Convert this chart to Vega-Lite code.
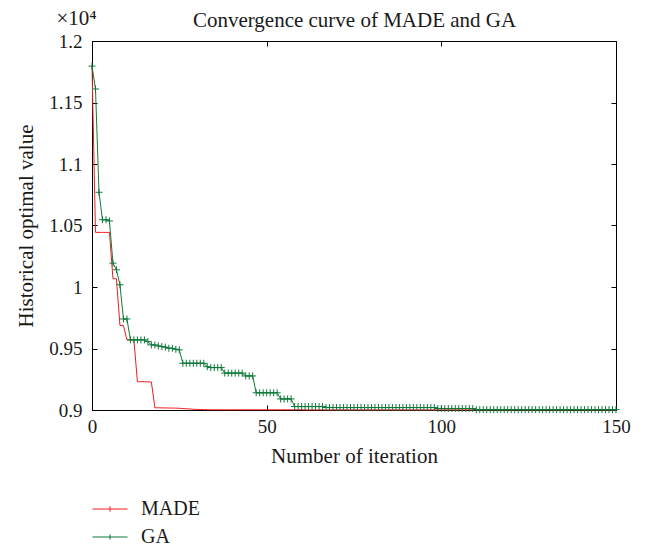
{
  "$schema": "https://vega.github.io/schema/vega-lite/v6.json",
  "width": 524,
  "height": 369,
  "autosize": {"type": "none"},
  "padding": {"left": 92, "top": 41, "right": 29, "bottom": 138},
  "background": "white",
  "config": {
    "font": "Liberation Serif",
    "view": {"stroke": "black", "strokeWidth": 1},
    "axis": {
      "labelFont": "Liberation Serif",
      "titleFont": "Liberation Serif",
      "labelFontSize": 19,
      "titleFontSize": 21,
      "titleFontWeight": "normal",
      "labelColor": "#1a1a1a",
      "titleColor": "#1a1a1a",
      "domainColor": "black",
      "tickColor": "black",
      "tickSize": -5,
      "tickWidth": 1,
      "labelFlush": false,
      "grid": false
    }
  },
  "datasets": {
    "made": [
      {"i":0,"v":1.18},{"i":1,"v":1.0444},{"i":2,"v":1.0444},{"i":3,"v":1.0444},{"i":4,"v":1.0444},{"i":5,"v":1.0444},
      {"i":6,"v":1.0067},{"i":7,"v":1.0067},{"i":8,"v":0.9687},{"i":9,"v":0.9687},{"i":10,"v":0.957},{"i":11,"v":0.957},
      {"i":12,"v":0.957},{"i":13,"v":0.923},{"i":14,"v":0.923},{"i":15,"v":0.923},{"i":16,"v":0.9229},{"i":17,"v":0.9228},
      {"i":18,"v":0.9018},{"i":19,"v":0.9018},{"i":20,"v":0.9017},{"i":21,"v":0.9017},{"i":22,"v":0.9016},{"i":23,"v":0.9016},
      {"i":24,"v":0.9015},{"i":25,"v":0.9014},{"i":26,"v":0.9012},{"i":27,"v":0.901},{"i":28,"v":0.9008},{"i":29,"v":0.9006},
      {"i":30,"v":0.9005},{"i":31,"v":0.9004},{"i":32,"v":0.9003},{"i":33,"v":0.9003},{"i":34,"v":0.9002},{"i":35,"v":0.9002},
      {"i":36,"v":0.9002},{"i":37,"v":0.9002},{"i":38,"v":0.9002},{"i":39,"v":0.9002},{"i":40,"v":0.9002},{"i":41,"v":0.9002},
      {"i":42,"v":0.9002},{"i":43,"v":0.9002},{"i":44,"v":0.9002},{"i":45,"v":0.9002},{"i":46,"v":0.9002},{"i":47,"v":0.9002},
      {"i":48,"v":0.9002},{"i":49,"v":0.9002},{"i":50,"v":0.9002},{"i":51,"v":0.9002},{"i":52,"v":0.9002},{"i":53,"v":0.9002},
      {"i":54,"v":0.9002},{"i":55,"v":0.9002},{"i":56,"v":0.9002},{"i":57,"v":0.9002},{"i":58,"v":0.9002},{"i":59,"v":0.9002},
      {"i":60,"v":0.9002},{"i":61,"v":0.9001},{"i":62,"v":0.9001},{"i":63,"v":0.9001},{"i":64,"v":0.9001},{"i":65,"v":0.9001},
      {"i":66,"v":0.9001},{"i":67,"v":0.9001},{"i":68,"v":0.9001},{"i":69,"v":0.9001},{"i":70,"v":0.9001},{"i":71,"v":0.9001},
      {"i":72,"v":0.9001},{"i":73,"v":0.9001},{"i":74,"v":0.9001},{"i":75,"v":0.9001},{"i":76,"v":0.9001},{"i":77,"v":0.9001},
      {"i":78,"v":0.9001},{"i":79,"v":0.9001},{"i":80,"v":0.9001},{"i":81,"v":0.9001},{"i":82,"v":0.9001},{"i":83,"v":0.9001},
      {"i":84,"v":0.9001},{"i":85,"v":0.9001},{"i":86,"v":0.9001},{"i":87,"v":0.9001},{"i":88,"v":0.9001},{"i":89,"v":0.9001},
      {"i":90,"v":0.9001},{"i":91,"v":0.9001},{"i":92,"v":0.9001},{"i":93,"v":0.9001},{"i":94,"v":0.9001},{"i":95,"v":0.9001},
      {"i":96,"v":0.9001},{"i":97,"v":0.9001},{"i":98,"v":0.9001},{"i":99,"v":0.9001},{"i":100,"v":0.9001},{"i":101,"v":0.9001},
      {"i":102,"v":0.9001},{"i":103,"v":0.9001},{"i":104,"v":0.9001},{"i":105,"v":0.9001},{"i":106,"v":0.9001},{"i":107,"v":0.9001},
      {"i":108,"v":0.9001},{"i":109,"v":0.9001},{"i":110,"v":0.9001},{"i":111,"v":0.9001},{"i":112,"v":0.9001},{"i":113,"v":0.9001},
      {"i":114,"v":0.9001},{"i":115,"v":0.9001},{"i":116,"v":0.9001},{"i":117,"v":0.9001},{"i":118,"v":0.9001},{"i":119,"v":0.9001},
      {"i":120,"v":0.9001},{"i":121,"v":0.9001},{"i":122,"v":0.9001},{"i":123,"v":0.9001},{"i":124,"v":0.9001},{"i":125,"v":0.9001},
      {"i":126,"v":0.9001},{"i":127,"v":0.9001},{"i":128,"v":0.9001},{"i":129,"v":0.9001},{"i":130,"v":0.9001},{"i":131,"v":0.9001},
      {"i":132,"v":0.9001},{"i":133,"v":0.9001},{"i":134,"v":0.9001},{"i":135,"v":0.9001},{"i":136,"v":0.9001},{"i":137,"v":0.9001},
      {"i":138,"v":0.9001},{"i":139,"v":0.9001},{"i":140,"v":0.9001},{"i":141,"v":0.9001},{"i":142,"v":0.9001},{"i":143,"v":0.9001},
      {"i":144,"v":0.9001},{"i":145,"v":0.9001},{"i":146,"v":0.9001},{"i":147,"v":0.9001},{"i":148,"v":0.9001},{"i":149,"v":0.9001},
      {"i":150,"v":0.9001}
    ],
    "ga": [
      {"i":0,"v":1.1796},{"i":1,"v":1.161},{"i":2,"v":1.077},{"i":3,"v":1.0547},{"i":4,"v":1.0547},{"i":5,"v":1.0537},
      {"i":6,"v":1.0194},{"i":7,"v":1.014},{"i":8,"v":1.0018},{"i":9,"v":0.974},{"i":10,"v":0.974},{"i":11,"v":0.957},
      {"i":12,"v":0.957},{"i":13,"v":0.957},{"i":14,"v":0.957},{"i":15,"v":0.957},{"i":16,"v":0.9556},{"i":17,"v":0.9529},
      {"i":18,"v":0.9529},{"i":19,"v":0.9521},{"i":20,"v":0.9516},{"i":21,"v":0.9511},{"i":22,"v":0.9502},{"i":23,"v":0.9502},
      {"i":24,"v":0.9494},{"i":25,"v":0.9489},{"i":26,"v":0.938},{"i":27,"v":0.938},{"i":28,"v":0.938},{"i":29,"v":0.938},
      {"i":30,"v":0.938},{"i":31,"v":0.938},{"i":32,"v":0.938},{"i":33,"v":0.9352},{"i":34,"v":0.9345},{"i":35,"v":0.9345},
      {"i":36,"v":0.9345},{"i":37,"v":0.9345},{"i":38,"v":0.93},{"i":39,"v":0.93},{"i":40,"v":0.93},{"i":41,"v":0.93},
      {"i":42,"v":0.93},{"i":43,"v":0.93},{"i":44,"v":0.9277},{"i":45,"v":0.9277},{"i":46,"v":0.9277},{"i":47,"v":0.914},
      {"i":48,"v":0.914},{"i":49,"v":0.914},{"i":50,"v":0.914},{"i":51,"v":0.914},{"i":52,"v":0.914},{"i":53,"v":0.914},
      {"i":54,"v":0.909},{"i":55,"v":0.909},{"i":56,"v":0.909},{"i":57,"v":0.909},{"i":58,"v":0.9028},{"i":59,"v":0.9028},
      {"i":60,"v":0.9028},{"i":61,"v":0.9028},{"i":62,"v":0.9028},{"i":63,"v":0.9028},{"i":64,"v":0.9028},{"i":65,"v":0.9028},
      {"i":66,"v":0.9028},{"i":67,"v":0.902},{"i":68,"v":0.902},{"i":69,"v":0.902},{"i":70,"v":0.902},{"i":71,"v":0.902},
      {"i":72,"v":0.902},{"i":73,"v":0.902},{"i":74,"v":0.902},{"i":75,"v":0.902},{"i":76,"v":0.902},{"i":77,"v":0.902},
      {"i":78,"v":0.902},{"i":79,"v":0.902},{"i":80,"v":0.902},{"i":81,"v":0.902},{"i":82,"v":0.902},{"i":83,"v":0.902},
      {"i":84,"v":0.902},{"i":85,"v":0.902},{"i":86,"v":0.902},{"i":87,"v":0.902},{"i":88,"v":0.902},{"i":89,"v":0.902},
      {"i":90,"v":0.902},{"i":91,"v":0.902},{"i":92,"v":0.902},{"i":93,"v":0.902},{"i":94,"v":0.902},{"i":95,"v":0.902},
      {"i":96,"v":0.902},{"i":97,"v":0.902},{"i":98,"v":0.902},{"i":99,"v":0.9012},{"i":100,"v":0.9012},{"i":101,"v":0.9012},
      {"i":102,"v":0.9012},{"i":103,"v":0.9012},{"i":104,"v":0.9012},{"i":105,"v":0.9012},{"i":106,"v":0.9012},{"i":107,"v":0.9012},
      {"i":108,"v":0.9012},{"i":109,"v":0.9012},{"i":110,"v":0.9003},{"i":111,"v":0.9003},{"i":112,"v":0.9003},{"i":113,"v":0.9003},
      {"i":114,"v":0.9003},{"i":115,"v":0.9003},{"i":116,"v":0.9003},{"i":117,"v":0.9003},{"i":118,"v":0.9003},{"i":119,"v":0.9003},
      {"i":120,"v":0.9003},{"i":121,"v":0.9003},{"i":122,"v":0.9003},{"i":123,"v":0.9003},{"i":124,"v":0.9003},{"i":125,"v":0.9003},
      {"i":126,"v":0.9003},{"i":127,"v":0.9003},{"i":128,"v":0.9003},{"i":129,"v":0.9003},{"i":130,"v":0.9003},{"i":131,"v":0.9003},
      {"i":132,"v":0.9003},{"i":133,"v":0.9003},{"i":134,"v":0.9003},{"i":135,"v":0.9003},{"i":136,"v":0.9003},{"i":137,"v":0.9003},
      {"i":138,"v":0.9003},{"i":139,"v":0.9003},{"i":140,"v":0.9003},{"i":141,"v":0.9003},{"i":142,"v":0.9003},{"i":143,"v":0.9003},
      {"i":144,"v":0.9003},{"i":145,"v":0.9003},{"i":146,"v":0.9003},{"i":147,"v":0.9003},{"i":148,"v":0.9003},{"i":149,"v":0.9003},
      {"i":150,"v":0.9003}
    ]
  },
  "layer": [
    {
      "data": {"name": "made"},
      "mark": {"type": "line", "strokeWidth": 1, "clip": false},
      "encoding": {
        "x": {
          "field": "i", "type": "quantitative",
          "scale": {"domain": [0, 150], "nice": false, "zero": false},
          "axis": {"orient": "bottom", "values": [0, 50, 100, 150], "title": "Number of iteration", "labelPadding": 12, "titlePadding": 9, "labelFlush": false}
        },
        "y": {
          "field": "v", "type": "quantitative",
          "scale": {"domain": [0.9, 1.2], "nice": false, "zero": false},
          "axis": {"orient": "left", "values": [0.9, 0.95, 1, 1.05, 1.1, 1.15, 1.2], "format": "~g", "title": "Historical optimal value", "labelPadding": 15, "titlePadding": 12, "labelFlush": false}
        },
        "color": {
          "datum": "MADE",
          "type": "nominal",
          "scale": {"domain": ["MADE", "GA"], "range": ["#f01d1d", "#0f7a3a"]},
          "legend": {
            "orient": "none",
            "legendX": 0,
            "legendY": 450,
            "title": null,
            "symbolType": "M-1,0H1M0,-0.15V0.15",
            "symbolSize": 1225,
            "symbolStrokeWidth": 1,
            "labelFont": "Liberation Serif",
            "labelFontSize": 20,
            "labelColor": "#1a1a1a",
            "labelOffset": 13,
            "rowPadding": -7
          }
        }
      }
    },
    {
      "data": {"name": "ga"},
      "mark": {"type": "line", "strokeWidth": 1, "clip": false},
      "encoding": {
        "x": {"field": "i", "type": "quantitative", "axis": null},
        "y": {"field": "v", "type": "quantitative", "axis": null},
        "color": {"datum": "GA", "type": "nominal"}
      }
    },
    {
      "data": {"name": "ga"},
      "mark": {"type": "point", "shape": "M-1,0H1M0,-1V1", "size": 49, "filled": false, "strokeWidth": 1, "color": "#0f7a3a", "opacity": 1, "clip": false},
      "encoding": {
        "x": {
          "field": "i", "type": "quantitative",
          "axis": {"orient": "top", "values": [0, 50, 100, 150], "labels": false, "title": "Convergence curve of MADE and GA", "titleX": 262, "titleY": -15, "titleAlign": "center", "titleAnchor": "middle", "titleBaseline": "alphabetic", "titleAngle": 0, "titleFontSize": 21}
        },
        "y": {
          "field": "v", "type": "quantitative",
          "axis": {"orient": "right", "values": [0.9, 0.95, 1, 1.05, 1.1, 1.15, 1.2], "labels": false, "title": "×10⁴", "titleX": -560, "titleY": -17, "titleAlign": "left", "titleBaseline": "alphabetic", "titleAngle": 0, "titleFontSize": 21}
        }
      }
    }
  ],
  "resolve": {"axis": {"x": "independent", "y": "independent"}}
}
